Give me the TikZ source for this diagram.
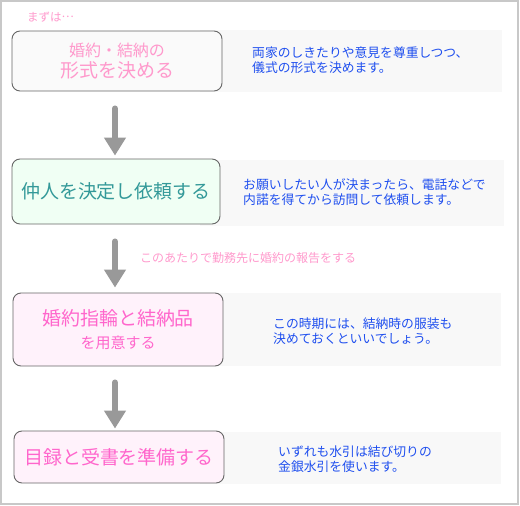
\documentclass[tikz,border=0pt]{standalone}
\usepackage{fontspec}
\setmainfont{Noto Sans CJK JP}
\usetikzlibrary{arrows.meta}
\definecolor{framegray}{HTML}{C8C8C8}
\definecolor{boxgray}{HTML}{666666}
\definecolor{arrowgray}{HTML}{999999}
\definecolor{panelgray}{HTML}{F8F8F8}
\definecolor{pinklight}{HTML}{FF99CC}
\definecolor{pinkdeep}{HTML}{FF66CC}
\definecolor{tealtext}{HTML}{339999}
\definecolor{noteblue}{HTML}{1F4FEF}
\definecolor{fillgreen}{HTML}{F0FFF4}
\definecolor{fillpink}{HTML}{FFF2FB}

\begin{document}
\begin{tikzpicture}[
  x=1pt, y=-1pt,
  stepbox/.style={draw=boxgray, line width=0.9pt, rounded corners=8pt, minimum width=210pt, inner sep=2pt, align=center},
  notepanel/.style={fill=panelgray, minimum width=302pt, inner sep=0pt},
  note/.style={anchor=west, text=noteblue, align=left, inner sep=0pt, font=\fontsize{12.8}{15}\selectfont},
  flow/.style={draw=arrowgray, line width=6pt, line cap=round, -{Triangle[width=21pt,length=18pt]}}
]
\useasboundingbox (0,0) rectangle (520,506);
\draw[framegray, line width=1.5pt] (1,1) rectangle (518,504);

\node[notepanel, minimum height=62pt] (panel1) at (351,61) {};
\node[notepanel, minimum width=304pt, minimum height=66pt] (panel2) at (352,193) {};
\node[notepanel, minimum width=301pt, minimum height=73pt] (panel3) at (350.5,329.5) {};
\node[notepanel, minimum width=301pt, minimum height=52pt] (panel4) at (350.5,458) {};

\node[anchor=west, inner sep=0pt, text=pinklight, font=\fontsize{11.5}{13}\selectfont] (first) at (27,17) {まずは\raisebox{3.5pt}{…}};

\node[stepbox, fill=white!98!black, minimum height=60pt, text=pinklight, font=\fontsize{19}{21}\selectfont] (box1) at (117,61)
  {{\fontsize{16}{18}\selectfont 婚約・結納の}\\形式を決める};
\node[stepbox, fill=fillgreen, minimum width=208pt, minimum height=65pt, text=tealtext, font=\fontsize{19}{24}\selectfont] (box2) at (116,191.5)
  {仲人を決定し依頼する};
\node[stepbox, fill=fillpink, minimum height=73pt, text=pinkdeep, font=\fontsize{19}{23}\selectfont] (box3) at (118,329.5)
  {婚約指輪と結納品\\{\fontsize{15}{17}\selectfont を用意する}};
\node[stepbox, fill=fillpink, minimum height=52pt, text=pinkdeep, font=\fontsize{19}{21}\selectfont] (box4) at (119,457)
  {目録と受書を準備する};

\node[note] (note1) at (252,60.5) {両家のしきたりや意見を尊重しつつ、\\儀式の形式を決めます。};
\node[note] (note2) at (243,192.5) {お願いしたい人が決まったら、電話などで\\内諾を得てから訪問して依頼します。};
\node[note] (note3) at (273,331) {この時期には、結納時の服装も\\決めておくといいでしょう。};
\node[note] (note4) at (278,459) {いずれも水引は結び切りの\\金銀水引を使います。};

\node[anchor=west, inner sep=0pt, text=pinklight, font=\fontsize{12}{14}\selectfont] (report) at (140,258) {このあたりで勤務先に婚約の報告をする};

\draw[flow, shorten <=17pt, shorten >=3pt] ([xshift=-2pt]box1.south) -- ([xshift=-2pt]box1.south |- box2.north);
\draw[flow, shorten <=17pt, shorten >=5pt] ([xshift=-1pt]box2.south) -- ([xshift=-1pt]box2.south |- box3.north);
\draw[flow, shorten <=16pt, shorten >=2pt] ([xshift=-3pt]box3.south) -- ([xshift=-3pt]box3.south |- box4.north);
\end{tikzpicture}
\end{document}
